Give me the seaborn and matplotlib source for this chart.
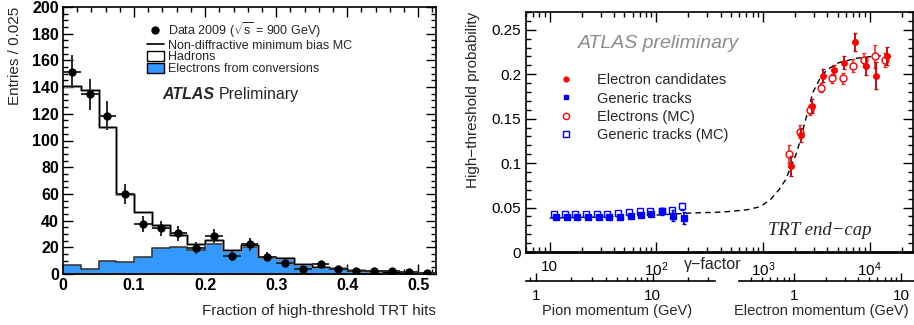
import numpy as np
import pandas as pd
import seaborn as sns
import matplotlib
matplotlib.use("Agg")
import matplotlib.pyplot as plt
from matplotlib.lines import Line2D
from matplotlib.patches import Patch
from matplotlib.ticker import (MultipleLocator, LogLocator, FixedLocator,
                               FixedFormatter, NullFormatter, FuncFormatter)

# ---------------- data: left panel ----------------
bin_edges = [0.0, 0.025, 0.05, 0.075, 0.1, 0.125, 0.15, 0.175, 0.2, 0.225, 0.25,
             0.275, 0.3, 0.325, 0.35, 0.375, 0.4, 0.425, 0.45, 0.475, 0.5, 0.525]
mc_total = [141, 138, 110, 59.7, 46.4, 36.7, 29.2, 22.2, 25.5, 18, 21.7,
            13, 12.2, 7.2, 5.5, 4.2, 3, 2.5, 1.7, 1.0, 0.3]
mc_electrons = [6.7, 3.5, 9.7, 8.7, 13, 19.2, 20.5, 18, 22.5, 17.2, 20.5,
                12.2, 11.7, 6.7, 5.0, 3.5, 2.5, 2.0, 1.2, 0.7, 0.2]
data_counts = [151.5, 134.6, 118.6, 60, 37.5, 34.2, 30.5, 19.2, 28.5, 13.5, 22.2,
               13, 8.5, 3.5, 7.2, 3.5, 2.5, 2.2, 2.2, 1.2, 0.7]
data_err = [12.3, 11.6, 10.9, 7.7, 6.1, 5.8, 5.5, 4.4, 5.3, 3.7, 4.7,
            3.6, 2.9, 1.9, 2.7, 1.9, 1.6, 1.5, 1.5, 1.1, 0.8]

# ---------------- data: right panel ----------------
gen_gamma = [11.5, 14.4, 18.1, 22.7, 28.8, 36.3, 45.7, 57.4, 72.3, 89.7, 113, 142, 182]
gen_prob = [0.0389, 0.0391, 0.0389, 0.0389, 0.0391, 0.0389, 0.0397, 0.0408,
            0.0412, 0.0427, 0.0458, 0.0410, 0.0385]
gen_err = [0.001, 0.001, 0.001, 0.001, 0.001, 0.001, 0.001, 0.0012, 0.0015,
           0.002, 0.004, 0.006, 0.007]
genmc_gamma = [11.0, 13.8, 17.4, 22.1, 27.8, 34.8, 44.1, 55.5, 69.7, 87.9, 112, 139, 175]
genmc_prob = [0.0427, 0.0423, 0.0423, 0.0423, 0.0427, 0.0430, 0.0438, 0.0449,
              0.0457, 0.0464, 0.0464, 0.0468, 0.0513]
genmc_err = [0.0008, 0.0008, 0.0008, 0.0008, 0.0008, 0.0008, 0.0009, 0.001,
             0.001, 0.0012, 0.002, 0.002, 0.004]
ele_gamma = [1828, 2270, 2877, 3622, 4592, 5781, 7328, 9226, 11535, 14521]
ele_prob = [0.0965, 0.1318, 0.1644, 0.1985, 0.2048, 0.2130, 0.2360, 0.2090, 0.1985, 0.2208]
ele_err = [0.011, 0.008, 0.008, 0.007, 0.006, 0.007, 0.010, 0.010, 0.015, 0.010]
elemc_gamma = [1766, 2203, 2773, 3499, 4436, 5623, 6966, 8851, 11117, 13804]
elemc_prob = [0.1104, 0.1355, 0.1598, 0.1849, 0.1954, 0.1954, 0.2096, 0.2160, 0.2204, 0.2160]
elemc_err = [0.010, 0.007, 0.006, 0.005, 0.005, 0.006, 0.007, 0.008, 0.013, 0.008]
fit_gamma = [10, 31.6, 100, 209, 427, 708, 944, 1175, 1413, 1622, 1862, 2089,
             2512, 2951, 3445, 3981, 5129, 7586, 11749, 16596]
fit_prob = [0.0382, 0.0395, 0.0415, 0.0438, 0.0450, 0.0475, 0.0510, 0.0590,
            0.0700, 0.0810, 0.0980, 0.1130, 0.1490, 0.1800, 0.1960, 0.2050,
            0.2130, 0.2180, 0.2206, 0.2210]

# ---------------- style ----------------
sns.set_theme(style="ticks")
plt.rcParams["font.family"] = ["Liberation Sans", "DejaVu Sans"]
plt.rcParams["mathtext.fontset"] = "custom"
plt.rcParams["mathtext.rm"] = "Liberation Sans"
plt.rcParams["mathtext.it"] = "Liberation Sans:italic"
plt.rcParams["mathtext.bf"] = "Liberation Sans:bold"

W, H = 914, 325
fig = plt.figure(figsize=(W / 100, H / 100), dpi=100)
fig.patch.set_facecolor("white")

def px_axes(l, t, r, b):
    return fig.add_axes([l / W, (H - b) / H, (r - l) / W, (b - t) / H])

BLUE = "#3399FF"

# ================= LEFT PANEL =================
axL = px_axes(63, 7, 436, 274)
centers = [(bin_edges[i] + bin_edges[i + 1]) / 2 for i in range(len(bin_edges) - 1)]
df = pd.DataFrame({"x": centers, "total": mc_total, "ele": mc_electrons,
                   "data": data_counts, "err": data_err})

sns.histplot(data=df, x="x", weights="total", bins=bin_edges, element="step",
             fill=False, color="#a0a0a0", linewidth=2.0, ax=axL)
sns.histplot(data=df, x="x", weights="ele", bins=bin_edges, element="step",
             fill=True, color=BLUE, alpha=1.0, edgecolor="#3a3a3a",
             linewidth=1.2, ax=axL)
sns.histplot(data=df, x="x", weights="total", bins=bin_edges, element="step",
             fill=False, color="black", linewidth=1.0, ax=axL)
axL.errorbar(df["x"], df["data"], yerr=df["err"], xerr=0.0125, fmt="o",
             color="black", ms=5, ecolor="#2a2a2a", elinewidth=1.4, capsize=0,
             zorder=5)

axL.set_xlim(0, 0.525)
axL.set_ylim(0, 200)
axL.xaxis.set_major_locator(MultipleLocator(0.1))
axL.xaxis.set_minor_locator(MultipleLocator(0.02))
axL.yaxis.set_major_locator(MultipleLocator(20))
axL.yaxis.set_minor_locator(MultipleLocator(5))
axL.xaxis.set_major_formatter(FuncFormatter(lambda v, p: f"{v:g}"))
axL.tick_params(which="both", direction="in", top=True, right=True,
                labelsize=11.5, colors="black", pad=3)
axL.tick_params(which="major", length=7, width=1)
axL.tick_params(which="minor", length=3.5, width=1)
for lab in axL.get_xticklabels() + axL.get_yticklabels():
    lab.set_fontweight("bold")
for s in axL.spines.values():
    s.set_linewidth(1.2)
    s.set_color("black")
axL.set_xlabel("Fraction of high-threshold TRT hits", loc="right", fontsize=11,
               labelpad=8)
axL.set_ylabel("Entries / 0.025", loc="top", fontsize=11, labelpad=7)

handles = [
    Line2D([], [], marker="o", color="black", ls="none", ms=5),
    Line2D([], [], color="black", lw=1.2),
    Patch(facecolor="white", edgecolor="black", lw=1),
    Patch(facecolor=BLUE, edgecolor="black", lw=1),
]
labels = ["Data 2009 ($\\sqrt{\\mathrm{s}}$ = 900 GeV)",
          "Non-diffractive minimum bias MC", "Hadrons",
          "Electrons from conversions"]
axL.legend(handles, labels, loc="upper left", bbox_to_anchor=(0.225, 0.95),
           frameon=False, fontsize=9, labelspacing=-0.05, handlelength=1.35,
           handleheight=0.85, handletextpad=0.3, borderpad=0, borderaxespad=0)
axL.text(0.265, 0.672, "ATLAS", transform=axL.transAxes, fontsize=11.5,
         fontweight="bold", fontstyle="italic", va="center", ha="left")
axL.text(0.418, 0.672, "Preliminary", transform=axL.transAxes, fontsize=11.5,
         va="center", ha="left")

# ================= RIGHT PANEL =================
axR = px_axes(526, 12, 913, 252)
sns.lineplot(x=fit_gamma, y=fit_prob, ax=axR, color="black", lw=1.0,
             dashes=False, linestyle=(0, (4, 3)), zorder=2)
axR.errorbar(genmc_gamma, genmc_prob, yerr=genmc_err, fmt="s", mfc="white",
             mec="#0000ff", mew=1.0, ms=4.5, ecolor="#0000ff", elinewidth=1.2,
             capsize=1.5, zorder=3)
axR.errorbar(gen_gamma, gen_prob, yerr=gen_err, fmt="s", color="#0000ff",
             ms=4.0, ecolor="#0000cc", elinewidth=1.2, capsize=1.5, zorder=4)
axR.errorbar(elemc_gamma, elemc_prob, yerr=elemc_err, fmt="o", mfc="white",
             mec="#ff0000", mew=1.0, ms=5.0, ecolor="#e83030", elinewidth=1.2,
             capsize=1.5, zorder=3)
axR.errorbar(ele_gamma, ele_prob, yerr=ele_err, fmt="o", color="#ff0000",
             ms=4.0, ecolor="#c01010", elinewidth=1.4, capsize=1.5, zorder=4)

axR.set_xscale("log")
axR.set_xlim(6.0, 2.55e4)
axR.set_ylim(0, 0.27)
axR.xaxis.set_major_locator(FixedLocator([10, 100, 1000, 10000]))
axR.xaxis.set_major_formatter(FixedFormatter(["10", "$10^2$", "$10^3$", "$10^4$"]))
axR.xaxis.set_minor_locator(LogLocator(base=10, subs=np.arange(2, 10), numticks=20))
axR.xaxis.set_minor_formatter(NullFormatter())
axR.yaxis.set_major_locator(MultipleLocator(0.05))
axR.yaxis.set_minor_locator(MultipleLocator(0.01))
axR.yaxis.set_major_formatter(FuncFormatter(lambda v, p: f"{v:g}"))
axR.tick_params(which="both", direction="in", top=True, right=True,
                labelsize=11, colors="black")
axR.tick_params(which="major", length=7, width=1)
axR.tick_params(which="minor", length=3.5, width=1)
axR.tick_params(axis="x", pad=6)
for s in axR.spines.values():
    s.set_linewidth(1.2)
    s.set_color("black")
axR.spines["bottom"].set_linewidth(2.0)
axR.set_xlabel("")
axR.set_ylabel("High\u2212threshold probability", loc="top", fontsize=11,
               labelpad=8)

rh = [
    Line2D([], [], marker="o", color="#ff0000", ls="none", ms=3.5),
    Line2D([], [], marker="s", color="#0000ff", ls="none", ms=3.5),
    Line2D([], [], marker="o", mfc="white", mec="#ff0000", mew=1, ls="none", ms=4.5),
    Line2D([], [], marker="s", mfc="white", mec="#0000ff", mew=1, ls="none", ms=4.5),
]
rl = ["Electron candidates", "Generic tracks", "Electrons (MC)", "Generic tracks (MC)"]
axR.legend(rh, rl, loc="upper left", bbox_to_anchor=(0.085, 0.745), frameon=False,
           fontsize=10.5, labelspacing=0.3, handlelength=1.0, handletextpad=1.6,
           borderpad=0, borderaxespad=0)
axR.text(0.135, 0.87, "ATLAS preliminary", transform=axR.transAxes,
         fontsize=14, fontstyle="italic", color="#8c8c8c", va="center", ha="left")
axR.text(0.625, 0.09, "TRT end\u2212cap", transform=axR.transAxes,
         fontsize=13.5, fontstyle="italic", family=["Liberation Serif", "DejaVu Serif"],
         va="center", ha="left")
fig.text(713 / W, 1 - 265 / H, "\u03b3\u2212factor", fontsize=11.5,
         ha="center", va="center")

# ---- secondary momentum axes ----
def mom_axis(l, r, xlim, majors, labels_, title, title_x):
    a = fig.add_axes([l / W, (H - 281) / H, (r - l) / W, 0.0005])
    a.patch.set_visible(False)
    for s in ["top", "left", "right"]:
        a.spines[s].set_visible(False)
    a.spines["bottom"].set_linewidth(1.2)
    a.spines["bottom"].set_color("black")
    a.set_yticks([])
    a.set_xscale("log")
    a.set_xlim(*xlim)
    a.xaxis.set_major_locator(FixedLocator(majors))
    a.xaxis.set_major_formatter(FixedFormatter(labels_))
    a.xaxis.set_minor_locator(LogLocator(base=10, subs=np.arange(2, 10), numticks=20))
    a.xaxis.set_minor_formatter(NullFormatter())
    a.tick_params(axis="x", which="both", direction="in", labelsize=11, pad=6,
                  colors="black")
    a.tick_params(axis="x", which="major", length=6, width=1)
    a.tick_params(axis="x", which="minor", length=3, width=1)
    fig.text(title_x / W, 1 - 311 / H, title, fontsize=10.5, ha="right", va="center")
    return a

mom_axis(526, 715, (0.826, 34.1), [1, 10], ["1", "10"],
         "Pion momentum (GeV)", 692)
mom_axis(739, 914, (0.306, 13.2), [1, 10], ["1", "10"],
         "Electron momentum (GeV)", 909)

fig.savefig("out.png", dpi=100, facecolor="white")
